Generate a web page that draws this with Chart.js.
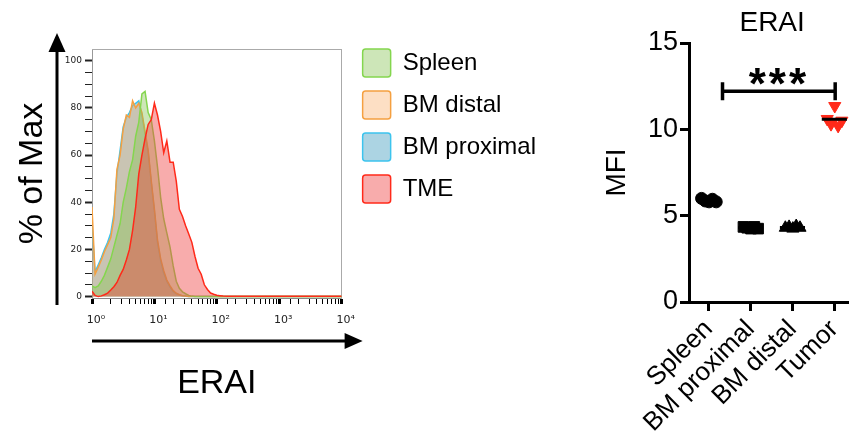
<!DOCTYPE html>
<html>
<head>
<meta charset="utf-8">
<script src="https://cdn.jsdelivr.net/npm/chart.js@4.4.0/dist/chart.umd.min.js"></script>
<style>
  html, body { margin: 0; padding: 0; background: #fff; overflow: hidden; }
  #wrap { position: relative; width: 849px; height: 444px; overflow: hidden; }
  #hist { position: absolute; left: 0; top: 0; }
  #dot { position: absolute; left: 600px; top: 0; }
</style>
</head>
<body>
<div id="wrap">
  <canvas id="hist" width="560" height="444"></canvas>
  <canvas id="dot" width="260" height="444"></canvas>
</div>
<script>
// =======================
//  HISTOGRAM DATA (% of Max per channel)
// =======================
const channels = [1, 1.12, 1.26, 1.41, 1.58, 1.78, 2, 2.24, 2.51, 2.82,
                  3.16, 3.55, 3.98, 4.47, 5.01, 5.62, 6.31, 7.08, 7.94, 8.91,
                  10, 11.2, 12.6, 14.1, 15.8, 17.8, 20, 22.4, 25.1, 28.2,
                  31.6, 35.5, 39.8, 44.7, 50.1, 56.2, 63.1, 70.8, 79.4, 89.1,
                  100, 112, 126, 141, 158, 316, 1000, 3162, 10000];

const spleen     = [4.5, 3.8, 4.5, 6.5, 9, 12.5, 16, 21, 26, 31,
                    40, 46, 53, 58, 68, 74, 86, 87, 78, 75,
                    66, 55, 42, 33, 27, 21, 13, 6.5, 3.5, 2,
                    1.2, 0.5, 0.2, 0, 0, 0, 0, 0, 0, 0,
                    0, 0, 0, 0, 0, 0, 0, 0, 0];
const bmDistal   = [38, 9.5, 12.5, 15.5, 19, 22, 25, 33, 54, 60,
                    71, 77, 76, 83, 80, 82, 78, 70, 62, 49,
                    37, 24, 16, 11, 7, 4.5, 2.5, 1.4, 0.8, 0.4,
                    0.2, 0, 0, 0, 0, 0, 0, 0, 0, 0,
                    0, 0, 0, 0, 0, 0, 0, 0, 0];
const bmProximal = [30, 10.5, 13.5, 16.5, 20, 23, 27, 35, 52, 62,
                    72, 76, 78, 81, 82, 83, 77, 69, 61, 48,
                    36, 23, 15, 10, 6.5, 4, 2.2, 1.2, 0.7, 0.3,
                    0.1, 0, 0, 0, 0, 0, 0, 0, 0, 0,
                    0, 0, 0, 0, 0, 0, 0, 0, 0];
const tme        = [2.3, 0.5, 0, 0.3, 0.8, 1.5, 2.8, 4.2, 6, 9,
                    11.5, 15.5, 20, 28, 38, 52, 60, 67, 73, 75,
                    82, 77, 70, 61, 66, 57, 57, 49, 37, 34,
                    30, 26.5, 23, 17, 12, 9.5, 5, 3, 1.5, 1,
                    0.6, 0.4, 0.2, 0.1, 0.1, 0.1, 0.1, 0.1, 0.1];

const histYTicks = [0, 5, 10, 15, 20, 25, 30, 35, 40, 45, 50,
                    55, 60, 65, 70, 75, 80, 85, 90, 95, 100];
const decades = [1, 10, 100, 1000, 10000];
const decadeText = ["10⁰", "10¹", "10²", "10³", "10⁴"];

// =======================
//  DOT PLOT DATA (MFI)
// =======================
const groups = ["Spleen", "BM proximal", "BM distal", "Tumor"];
const spleenMFI     = [6.0, 5.85, 5.8, 5.95, 5.8];
const bmProximalMFI = [4.35, 4.3, 4.25, 4.35, 4.25];
const bmDistalMFI   = [4.3, 4.35, 4.25, 4.4, 4.3];
const tumorMFI      = [10.6, 10.3, 11.35, 10.2, 10.5];
const jitter        = [-0.17, -0.08, 0.01, 0.09, 0.18];
const mfiTicks = [0, 5, 10, 15];
const sigFrom = 0.33, sigTo = 3.02, sigY = 12.2, sigText = "***";

Chart.defaults.font.family = "'Liberation Sans', Arial, sans-serif";
Chart.defaults.color = "#000";

const pts = (ys) => ys.map((y, i) => ({ x: channels[i], y: y }));

// ===================================================
// 1) HISTOGRAM OVERLAY
// ===================================================
const arrowPlugin = {
    id: "axisArrows",
    afterDraw(chart) {
        const { ctx, chartArea: a } = chart;
        ctx.save();
        ctx.fillStyle = "#000";
        ctx.strokeStyle = "#000";
        ctx.lineWidth = 3;
        const vx = a.left - 35;
        ctx.beginPath(); ctx.moveTo(vx, a.bottom + 7); ctx.lineTo(vx, a.top); ctx.stroke();
        ctx.beginPath(); ctx.moveTo(vx, a.top - 16); ctx.lineTo(vx - 8.5, a.top + 3); ctx.lineTo(vx + 8.5, a.top + 3); ctx.closePath(); ctx.fill();
        const hy = a.bottom + 43;
        ctx.beginPath(); ctx.moveTo(a.left, hy); ctx.lineTo(a.right + 5, hy); ctx.stroke();
        ctx.beginPath(); ctx.moveTo(a.right + 21, hy); ctx.lineTo(a.right + 3, hy - 8); ctx.lineTo(a.right + 3, hy + 8); ctx.closePath(); ctx.fill();
        ctx.restore();
    }
};

const histChart = new Chart(document.getElementById("hist"), {
    type: "line",
    data: {
        datasets: [
            { label: "Spleen", data: pts(spleen), order: 1,
              borderColor: "#84d64e", backgroundColor: "rgba(135,195,85,0.42)" },
            { label: "BM distal", data: pts(bmDistal), order: 2,
              borderColor: "#f5a040", backgroundColor: "rgba(250,170,100,0.38)" },
            { label: "BM proximal", data: pts(bmProximal), order: 3,
              borderColor: "#3cc4ee", backgroundColor: "rgba(90,170,200,0.5)" },
            { label: "TME", data: pts(tme), order: 0,
              borderColor: "#ff2a1a", backgroundColor: "rgba(240,70,70,0.45)" }
        ].map(d => Object.assign(d, { fill: "origin", pointRadius: 0, borderWidth: 1.5, tension: 0 }))
    },
    options: {
        responsive: false,
        animation: false,
        layout: { padding: { left: 12, right: 14, top: 35, bottom: 40 } },
        plugins: {
            tooltip: { enabled: false },
            legend: {
                position: "right",
                align: "start",
                maxWidth: 300,
                labels: {
                    boxWidth: 28, boxHeight: 28, padding: 14,
                    useBorderRadius: true, borderRadius: 3,
                    color: "#000", font: { size: 24 },
                    sort: (a, b) => a.datasetIndex - b.datasetIndex
                }
            }
        },
        scales: {
            x: {
                type: "logarithmic",
                min: 1, max: 10000,
                afterFit: (s) => { s.height = 106; },
                border: { color: "#888" },
                grid: {
                    drawOnChartArea: false, tickLength: 6, tickColor: "#000",
                    tickWidth: (c) => decades.includes(c.tick.value) ? 3 : 1
                },
                ticks: {
                    autoSkip: false, maxRotation: 0, padding: 10, labelOffset: 4, color: "#222",
                    font: { family: "'DejaVu Sans'", size: 11 },
                    callback: (v) => { const i = decades.indexOf(v); return i >= 0 ? decadeText[i] : ""; }
                },
                title: { display: true, text: "ERAI", font: { size: 34 }, padding: 0, color: "#000" }
            },
            y: {
                min: -0.6, max: 105,
                afterBuildTicks: (s) => { s.ticks = histYTicks.map(v => ({ value: v })); },
                afterFit: (s) => { s.width = 80; },
                border: { color: "#999" },
                grid: {
                    drawOnChartArea: false, tickLength: 7, tickColor: "#222",
                    tickWidth: (c) => c.tick.value % 20 === 0 ? 2 : 1
                },
                ticks: {
                    autoSkip: false, padding: 3, color: "#222",
                    font: { family: "'DejaVu Sans'", size: 9 },
                    callback: (v) => v % 20 === 0 ? String(v) : ""
                },
                title: { display: true, text: "% of Max", font: { size: 34 }, padding: 0, color: "#000" }
            },
            x2: {
                type: "linear", position: "top", display: true,
                afterFit: (s) => { s.height = 14; },
                grid: { drawOnChartArea: false, drawTicks: false },
                ticks: { display: false },
                border: { color: "#aaa" }
            },
            y2: {
                type: "linear", position: "right", display: true,
                afterFit: (s) => { s.width = 7; },
                grid: { drawOnChartArea: false, drawTicks: false },
                ticks: { display: false },
                border: { color: "#aaa" }
            }
        }
    },
    plugins: [arrowPlugin]
});

// ===================================================
// 2) DOT PLOT — MFI
// ===================================================
const mean = (a) => a.reduce((s, v) => s + v, 0) / a.length;
const groupPts = (ys, gi) => ys.map((y, i) => ({ x: gi + jitter[i], y: y }));
const meanLine = (ys, gi) => ({
    type: "line", data: [{ x: gi - 0.3, y: mean(ys) }, { x: gi + 0.3, y: mean(ys) }],
    borderColor: "#000", borderWidth: 3, pointRadius: 0, showLine: true, order: 0
});

const sigPlugin = {
    id: "sigText",
    afterDatasetsDraw(chart) {
        const { ctx, scales: { x, y } } = chart;
        ctx.save();
        ctx.font = "bold 44px 'Liberation Sans'";
        ctx.letterSpacing = "3px";
        ctx.textAlign = "center";
        ctx.fillStyle = "#000";
        const m = ctx.measureText(sigText);
        const cx = x.getPixelForValue((sigFrom + sigTo) / 2);
        const top = y.getPixelForValue(sigY) - 23;
        ctx.fillText(sigText, cx, top + m.actualBoundingBoxAscent);
        ctx.restore();
    }
};

const dotChart = new Chart(document.getElementById("dot"), {
    type: "scatter",
    data: {
        datasets: [
            { data: groupPts(spleenMFI, 0), pointStyle: "circle", pointRadius: 6,
              backgroundColor: "#000", borderColor: "#000", order: 1 },
            { data: groupPts(bmProximalMFI, 1), pointStyle: "rect", pointRadius: 7.5,
              backgroundColor: "#000", borderColor: "#000", order: 1 },
            { data: groupPts(bmDistalMFI, 2), pointStyle: "triangle", pointRadius: 7,
              backgroundColor: "#000", borderColor: "#000", order: 1 },
            { data: groupPts(tumorMFI, 3), pointStyle: "triangle", rotation: 180, pointRadius: 7,
              backgroundColor: "#ff2a1a", borderColor: "#ff2a1a", order: 1 },
            meanLine(spleenMFI, 0),
            meanLine(bmProximalMFI, 1),
            meanLine(bmDistalMFI, 2),
            meanLine(tumorMFI, 3),
            { type: "line", data: [{ x: sigFrom, y: sigY }, { x: sigTo, y: sigY }],
              showLine: true, borderColor: "#000", borderWidth: 3.5,
              pointStyle: "line", rotation: 90, pointRadius: 9, pointBorderWidth: 3.5,
              pointBorderColor: "#000", order: 0 }
        ]
    },
    options: {
        responsive: false,
        animation: false,
        layout: { padding: { left: 0, right: 1, top: 6, bottom: 0 }, autoPadding: false },
        plugins: {
            legend: { display: false },
            tooltip: { enabled: false },
            title: {
                display: true, text: "ERAI", fullSize: false, color: "#000",
                font: { size: 28, weight: "normal" }, padding: { top: 0, bottom: 3.4 }
            }
        },
        scales: {
            x: {
                type: "linear", min: -0.47, max: 3.5,
                afterBuildTicks: (s) => { s.ticks = groups.map((g, i) => ({ value: i })); },
                afterFit: (s) => { s.height = 142; },
                border: { color: "#000", width: 3 },
                grid: { drawOnChartArea: false, tickLength: 9, tickWidth: 3, tickColor: "#000" },
                ticks: {
                    autoSkip: false, minRotation: 45, maxRotation: 45, padding: 3,
                    color: "#000", font: { size: 26 },
                    callback: (v) => groups[v]
                }
            },
            y: {
                min: 0, max: 15,
                afterBuildTicks: (s) => { s.ticks = mfiTicks.map(v => ({ value: v })); },
                afterFit: (s) => { s.width = 89; },
                border: { color: "#000", width: 3 },
                grid: { drawOnChartArea: false, tickLength: 9, tickWidth: 3, tickColor: "#000" },
                ticks: { padding: 2, color: "#000", font: { size: 27 } },
                title: { display: true, text: "MFI", font: { size: 28 }, padding: 0, color: "#000" }
            }
        }
    },
    plugins: [sigPlugin]
});
</script>
</body>
</html>
